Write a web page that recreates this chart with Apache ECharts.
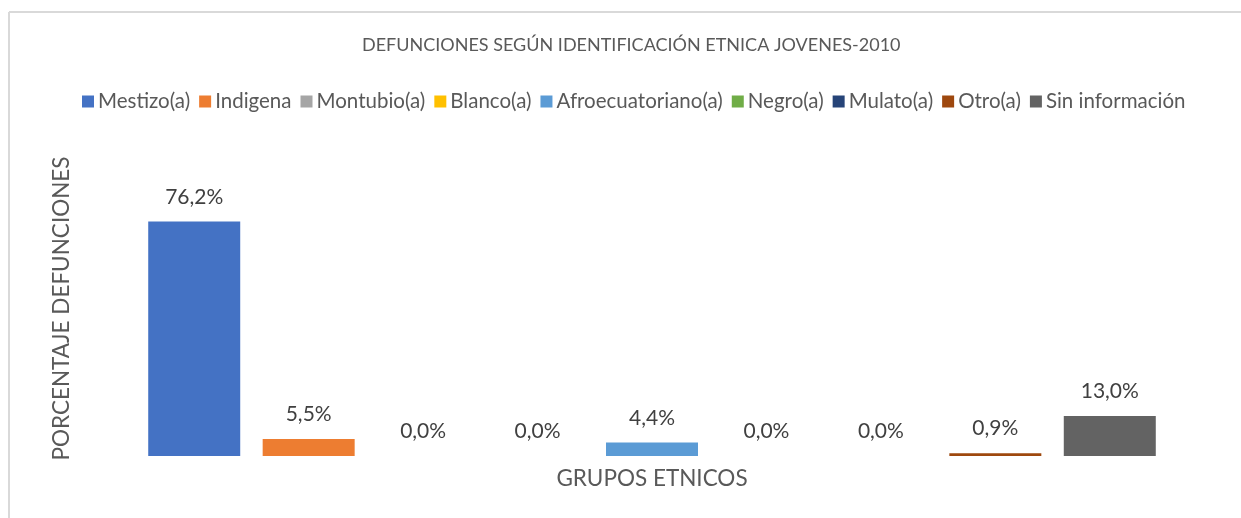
<!DOCTYPE html>
<html>
<head>
<meta charset="utf-8">
<script src="https://cdn.jsdelivr.net/npm/echarts@6/dist/echarts.min.js"></script>
<style>
  html, body { margin: 0; padding: 0; background: #fff; }
  #chart { width: 1241px; height: 518px; }
</style>
</head>
<body>
<div id="chart"></div>
<script>
// --- Datos ---
const grupos = ['Mestizo(a)', 'Indigena', 'Montubio(a)', 'Blanco(a)', 'Afroecuatoriano(a)',
                'Negro(a)', 'Mulato(a)', 'Otro(a)', 'Sin información'];
const porcentajes = [76.2, 5.5, 0.0, 0.0, 4.4, 0.0, 0.0, 0.9, 13.0];
const colores = ['#4472C4', '#ED7D31', '#A5A5A5', '#FFC000', '#5B9BD5',
                 '#70AD47', '#264478', '#9E480E', '#636363'];

const FONT = 'Lato, "Open Sans", sans-serif';

// una serie por grupo, para que cada uno salga en la leyenda
const series = grupos.map((g, i) => ({
    name: g,
    type: 'bar',
    barWidth: 92,
    barGap: '-100%',
    itemStyle: { color: colores[i] },
    data: grupos.map((_, j) => j === i ? porcentajes[i] : '-'),
    label: {
        show: true,
        position: 'top',
        distance: 14,
        color: '#404040',
        fontFamily: FONT,
        fontSize: 21,
        formatter: p => p.value.toFixed(1).replace('.', ',') + '%'
    }
}));

const chart = echarts.init(document.getElementById('chart'));
chart.setOption({
    animation: false,
    title: {
        text: 'DEFUNCIONES SEGÚN IDENTIFICACIÓN ETNICA JOVENES-2010',
        left: 362,
        top: 36,
        padding: 0,
        textStyle: { color: '#595959', fontFamily: FONT, fontSize: 18, fontWeight: 'normal' }
    },
    legend: {
        top: 86,
        left: 77,
        itemWidth: 12,
        itemHeight: 12,
        itemGap: 9,
        textStyle: { color: '#595959', fontFamily: FONT, fontSize: 20.5, padding: [0, 0, 0, -1] },
        data: grupos.map(g => ({ name: g, icon: 'rect' }))
    },
    grid: { left: 137, right: 74, top: 179, bottom: 62 },
    xAxis: {
        type: 'category',
        data: grupos,
        name: 'GRUPOS ETNICOS',
        nameLocation: 'middle',
        nameGap: 11,
        nameTextStyle: { color: '#595959', fontFamily: FONT, fontSize: 22.5 },
        axisLine: { show: false },
        axisTick: { show: false },
        axisLabel: { show: false }
    },
    yAxis: {
        type: 'value',
        min: 0,
        max: 90,
        name: 'PORCENTAJE DEFUNCIONES',
        nameLocation: 'middle',
        nameGap: 64,
        nameTextStyle: { color: '#595959', fontFamily: FONT, fontSize: 22.5, padding: [0, 0, 0, 18] },
        axisLine: { show: false },
        axisTick: { show: false },
        axisLabel: { show: false },
        splitLine: { show: false }
    },
    // marco del gráfico
    graphic: [
        { type: 'line', shape: { x1: 9, y1: 12, x2: 1241, y2: 12 }, style: { stroke: '#d9d9d9', lineWidth: 2 } },
        { type: 'line', shape: { x1: 9, y1: 12, x2: 9, y2: 518 }, style: { stroke: '#d9d9d9', lineWidth: 2 } }
    ],
    series: series
});
</script>
</body>
</html>
